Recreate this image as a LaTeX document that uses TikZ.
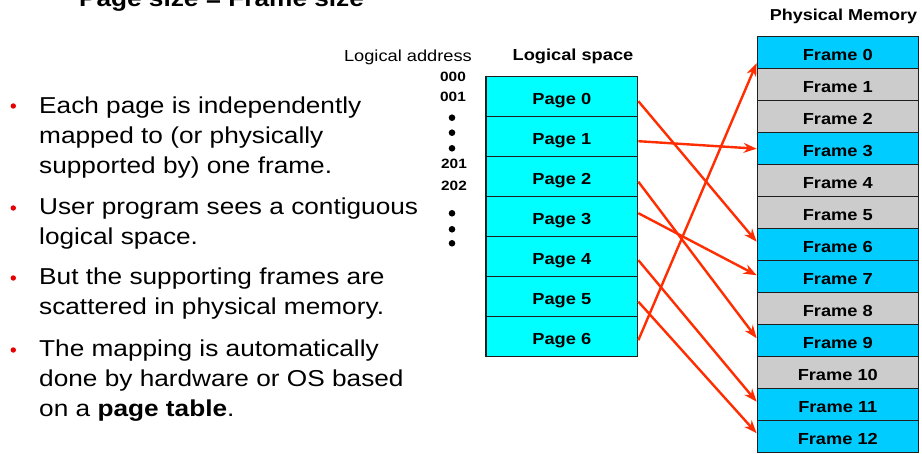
\documentclass[tikz,border=0pt]{standalone}
\usepackage{fontspec}
\setmainfont[FakeStretch=1.14]{Liberation Sans}
\usetikzlibrary{arrows.meta}
\definecolor{pagecyan}{RGB}{0,255,255}
\definecolor{framecyan}{RGB}{0,204,255}
\definecolor{framegray}{RGB}{204,204,204}
\definecolor{arrowred}{RGB}{255,45,0}
\definecolor{bulletred}{RGB}{230,0,0}
\definecolor{boxline}{RGB}{30,30,30}
\tikzset{
  pagebox/.style={draw=boxline, line width=1.4pt, fill=pagecyan, minimum width=151.7pt, minimum height=40pt, inner sep=0pt, text height=16pt, text depth=0pt, font=\bfseries\fontsize{16}{16}\selectfont},
  framebox/.style={draw=boxline, line width=1.4pt, minimum width=161pt, minimum height=32pt, inner sep=0pt, text height=16pt, text depth=0pt, font=\bfseries\fontsize{16}{16}\selectfont},
  usedframe/.style={framebox, fill=framecyan},
  freeframe/.style={framebox, fill=framegray},
  bodytext/.style={anchor=base west, inner sep=0pt, font=\fontsize{23}{23}\selectfont},
  addr/.style={anchor=base, inner sep=0pt, font=\bfseries\fontsize{13.5}{13.5}\selectfont},
  maparrow/.style={draw=arrowred, line width=2.4pt, -{Stealth[length=13pt,width=10pt]}},
  bulletdot/.style={fill=bulletred},
  addrdot/.style={fill=black}
}
\begin{document}
\begin{tikzpicture}[x=1pt,y=-1pt]
\useasboundingbox (0,0) rectangle (922,454);
\fill[white] (0,0) rectangle (922,454);

% title (cut off at top, as in the reference)
\node[anchor=base, inner sep=0pt, font=\bfseries\fontsize{23}{23}\selectfont] (title) at (221.5,6.5) {Page size = Frame size};

% bullets
\foreach \yy in {106,208,278,350} {\fill[bulletdot] (13.3,\yy) circle (2.7pt);}
\node[bodytext] (l1) at (39,113.3) {Each page is independently};
\node[bodytext] (l2) at (39,143.3) {mapped to (or physically};
\node[bodytext] (l3) at (39,173.3) {supported by) one frame.};
\node[bodytext] (l4) at (39,215) {User program sees a contiguous};
\node[bodytext] (l5) at (39,245) {logical space.};
\node[bodytext] (l6) at (39,285) {But the supporting frames are};
\node[bodytext] (l7) at (39,315) {scattered in physical memory.};
\node[bodytext] (l8) at (39,356.7) {The mapping is automatically};
\node[bodytext] (l9) at (39,386.7) {done by hardware or OS based};
\node[bodytext] (l10) at (39,416.7) {on a \textbf{page table}.};

% logical address labels
\node[anchor=base east, inner sep=0pt, font=\fontsize{16}{16}\selectfont] (la) at (472,62) {Logical address};
\node[addr] (a000) at (453,81.7) {000};
\node[addr] (a001) at (453,101.7) {001};
\node[addr] (a201) at (454,168.3) {201};
\node[addr] (a202) at (454,190.5) {202};
\foreach \yy in {117.7,132.7,148.3,213.3,229.3,243.3} {\fill[addrdot] (452,\yy) circle (3.3pt);}

% logical space
\node[anchor=base, inner sep=0pt, font=\bfseries\fontsize{16}{16}\selectfont] (ls) at (573,61) {Logical space};
\foreach \i in {0,...,6} {
  \node[pagebox] (p\i) at (561.8,{96.7+40*\i}) {Page \i};
}

% physical memory
\node[anchor=base, inner sep=0pt, font=\bfseries\fontsize{15.8}{15.8}\selectfont] (pm) at (843.5,20.7) {Physical Memory};
\foreach \i/\st in {0/usedframe,1/freeframe,2/freeframe,3/usedframe,4/freeframe,5/freeframe,6/usedframe,7/usedframe,8/freeframe,9/usedframe,10/freeframe,11/usedframe,12/usedframe} {
  \node[\st] (f\i) at (837.8,{52.7+32*\i}) {Frame \i};
}

% mapping arrows
\draw[maparrow] ([yshift=-4.5pt]p0.east) -- ([yshift=3pt]f6.west);
\draw[maparrow] ([yshift=-4.5pt]p1.east) -- (f3.west);
\draw[maparrow] ([yshift=-5pt]p2.east) -- ([yshift=2.5pt]f9.west);
\draw[maparrow] ([yshift=3.5pt]p3.east) -- ([yshift=1.5pt]f7.west);
\draw[maparrow] ([yshift=-3.5pt]p4.east) -- ([yshift=3pt]f11.west);
\draw[maparrow] ([yshift=-5pt]p5.east) -- ([yshift=3.5pt]f12.west);
\draw[maparrow] ([yshift=-3.5pt]p6.east) -- ([yshift=-10.5pt]f0.west);
\end{tikzpicture}
\end{document}
